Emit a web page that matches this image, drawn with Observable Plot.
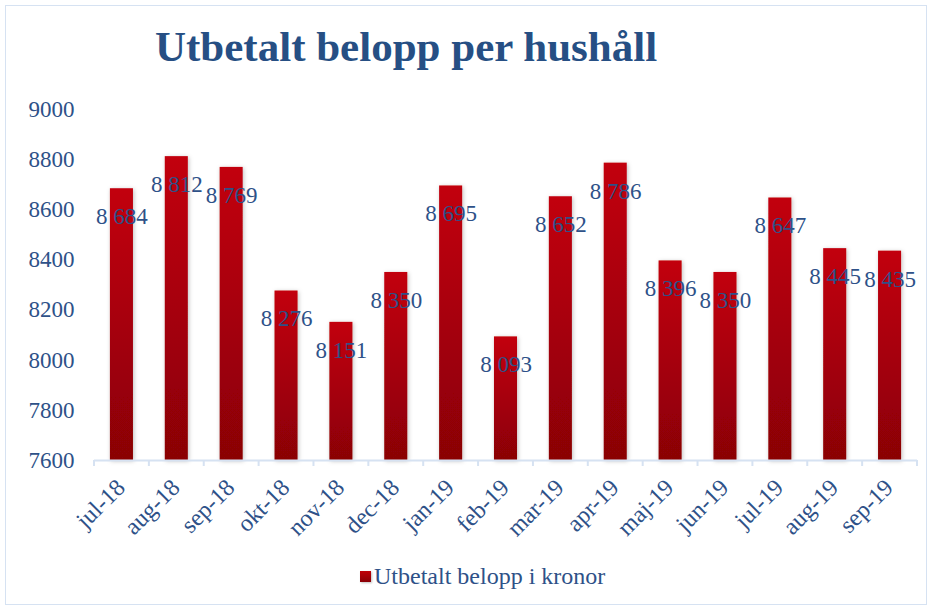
<!DOCTYPE html>
<html>
<head>
<meta charset="utf-8">
<script src="https://cdn.jsdelivr.net/npm/d3@7"></script>
<script src="https://cdn.jsdelivr.net/npm/@observablehq/plot@0.6"></script>
<style>
  html, body { margin: 0; padding: 0; background: #fff; }
  #wrap { position: relative; width: 933px; height: 612px; overflow: hidden; font-family: "Liberation Serif", "Times New Roman", serif; }
  #frame { position: absolute; left: 5px; top: 5px; width: 922px; height: 600px; border: 1px solid #d6e2f2; box-sizing: border-box; }
  #title { position: absolute; left: 155px; top: 25px; font-size: 43px; font-weight: bold; color: #264f84; white-space: nowrap; line-height: 1; }
  #chart { position: absolute; left: 0; top: 80px; }
  #legend { position: absolute; left: 360px; top: 564px; font-size: 24px; color: #2e5188; white-space: nowrap; line-height: 1; display: flex; align-items: center; }
  #legend .sw { width: 11px; height: 11px; background: linear-gradient(#c00008, #8a0006); margin-right: 3px; box-shadow: 1px 1px 2px rgba(0,0,0,0.25); }
</style>
</head>
<body>
<div id="wrap">
  <div id="frame"></div>
  <div id="title">Utbetalt belopp per hushåll</div>
  <div id="chart"></div>
  <div id="legend"><span class="sw"></span><span>Utbetalt belopp i kronor</span></div>
</div>
<script>
const months = ["jul-18","aug-18","sep-18","okt-18","nov-18","dec-18","jan-19","feb-19","mar-19","apr-19","maj-19","jun-19","jul-19","aug-19","sep-19"];
const values = [8684, 8812, 8769, 8276, 8151, 8350, 8695, 8093, 8652, 8786, 8396, 8350, 8647, 8445, 8435];
const yTicks = [7600, 7800, 8000, 8200, 8400, 8600, 8800, 9000];
const seriesName = "Utbetalt belopp i kronor";

const data = months.map((m, i) => ({month: m, value: values[i]}));
const fmt = v => d3.format(",")(v).replace(/,/g, " ");
const textColor = "#2e5188";
const serif = "'Liberation Serif', 'Times New Roman', serif";

const plot = Plot.plot({
  width: 933,
  height: 470,
  marginTop: 29,
  marginBottom: 90,
  marginLeft: 94,
  marginRight: 16,
  style: {fontFamily: serif, color: textColor, background: "transparent", overflow: "visible"},
  x: {domain: months, paddingInner: 0.58, paddingOuter: 0.29, round: false, label: null},
  y: {domain: [7600, 9000], ticks: yTicks, label: null},
  marks: [
    () => {
      const svg = d3.create("svg:defs");
      const g = svg.append("linearGradient").attr("id", "barGrad").attr("x1", 0).attr("y1", 0).attr("x2", 0).attr("y2", 1);
      g.append("stop").attr("offset", "0%").attr("stop-color", "#c2000a");
      g.append("stop").attr("offset", "100%").attr("stop-color", "#8a0006");
      const f = svg.append("filter").attr("id", "shadow").attr("x", "-30%").attr("y", "-10%").attr("width", "160%").attr("height", "120%");
      f.append("feDropShadow").attr("dx", 1).attr("dy", 1).attr("stdDeviation", 2).attr("flood-color", "#000").attr("flood-opacity", 0.25);
      return svg.node();
    },
    Plot.gridY(yTicks, {stroke: "#d6e2f2", strokeOpacity: 1, strokeWidth: 2, x1: 92, x2: 917}),
    Plot.axisY(yTicks, {tickSize: 0, tickPadding: 20, fontSize: 23, fill: textColor, fontFamily: serif, tickFormat: d => String(d)}),
    Plot.barY(data, {x: "month", y1: 7600, y2: "value", fill: "url(#barGrad)"}),
    Plot.ruleY([7600], {stroke: "#d6e2f2", strokeWidth: 2}),
    Plot.axisX({tickSize: 0, tickRotate: -45, tickPadding: 6, fontSize: 24, fill: textColor, fontFamily: serif, dx: -1, dy: 17}),
    Plot.text(data, {x: "month", y: "value", text: d => fmt(d.value), dy: 28, fontSize: 23, fontFamily: serif, fill: textColor, textAnchor: "middle", lineAnchor: "middle"})
  ]
});

// apply shadow to bars
d3.select(plot).selectAll("g[aria-label='bar'] rect").attr("filter", "url(#shadow)");

// tick marks at category boundaries using the plot's x scale
const xs = plot.scale("x");
const ys = plot.scale("y");
const step = xs.step !== undefined ? xs.step : (xs.bandwidth / (1 - 0.58));
const y0 = ys.apply(7600);
const bounds = months.map(m => xs.apply(m) + xs.bandwidth / 2 - step / 2);
bounds.push(xs.apply(months[months.length - 1]) + xs.bandwidth / 2 + step / 2);
const tg = d3.select(plot).append("g").attr("stroke", "#d6e2f2").attr("stroke-width", 2);
bounds.forEach(b => tg.append("line").attr("x1", b).attr("x2", b).attr("y1", y0).attr("y2", y0 + 6));

document.getElementById("chart").appendChild(plot);
</script>
</body>
</html>
